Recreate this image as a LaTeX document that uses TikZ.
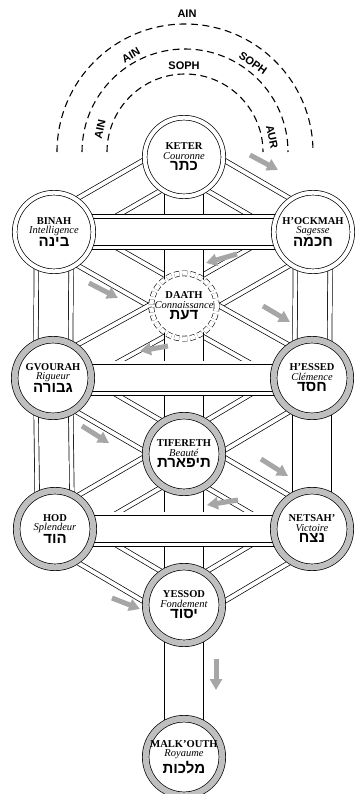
\documentclass[tikz,border=0pt]{standalone}
\usepackage{fontspec}
\setmainfont{Liberation Serif}
\newfontfamily\hebfont[Script=Hebrew]{Liberation Sans}
\newfontfamily\veilfont{Liberation Sans}
\TeXXeTstate=1
\usetikzlibrary{arrows.meta,backgrounds}
\newcommand{\heb}[1]{{\hebfont\bfseries\fontsize{15}{15}\selectfont\beginR #1\endR}}

\begin{document}
\begin{tikzpicture}[x=1pt, y=-1pt,
  sefupper/.style={circle, draw, line width=0.7pt, double=white, double distance=4pt,
                   fill=white, minimum size=78.6pt, inner sep=0pt, align=center,
                   font=\fontsize{10.5}{10.5}\selectfont},
  seflower/.style={sefupper, double=gray!50, double distance=6pt, minimum size=76.6pt},
  sefdaath/.style={sefupper, dash pattern=on 5pt off 3pt, line width=0.6pt,
                   double distance=4.5pt, minimum size=64.5pt},
  channel/.style={preaction={draw, line width=40pt}, preaction={draw=white, line width=38.6pt},
                  preaction={draw, line width=30.7pt}, draw=white, line width=29.3pt},
  bar/.style={preaction={draw, line width=35pt}, preaction={draw=white, line width=33.6pt},
              preaction={draw, line width=27.2pt}, draw=white, line width=25.8pt},
  veil/.style={dash pattern=on 7pt off 4.5pt, line width=1.1pt},
  veiltext/.style={font=\veilfont\bfseries\fontsize{11}{11}\selectfont, inner sep=1pt},
  flow/.style={-{Triangle[length=11pt,width=12pt]}, line width=5pt, gray!70}
]
\useasboundingbox (0,0) rectangle (356,794);

% veils above the crown
\draw[veil] (57,152) arc[start angle=180, end angle=360, radius=128];
\draw[veil] (82,152) arc[start angle=180, end angle=360, radius=103];
\draw[veil] (107,152) arc[start angle=180, end angle=360, radius=78];
\node[veiltext] (ainA) at (187,14) {AIN};
\node[veiltext, rotate=30] (ainB) at (131,55) {AIN};
\node[veiltext, rotate=-35] (sophA) at (253,63) {SOPH};
\node[veiltext] (sophB) at (184,66) {SOPH};
\node[veiltext, rotate=78] (ainC) at (100,129) {AIN};
\node[veiltext, rotate=-78] (aur) at (272,137) {AUR};

% sefirot
\node[sefupper] (keter) at (184,157) {\textbf{KETER}\\[-1pt]\textit{Couronne}\\[1pt]\heb{כתר}};
\node[sefupper] (binah) at (54,232) {\textbf{BINAH}\\[-1pt]\textit{Intelligence}\\[1pt]\heb{בינה}};
\node[sefupper] (hockmah) at (313,232) {\textbf{H'OCKMAH}\\[-1pt]\textit{Sagesse}\\[1pt]\heb{חכמה}};
\node[sefdaath] (daath) at (184,306) {\textbf{DAATH}\\[-1pt]\textit{Connaissance}\\[1pt]\heb{דעת}};
\node[seflower] (gvourah) at (53,378) {\textbf{GVOURAH}\\[-1pt]\textit{Rigueur}\\[1pt]\heb{גבורה}};
\node[seflower] (hessed) at (312,378) {\textbf{H'ESSED}\\[-1pt]\textit{Clémence}\\[1pt]\heb{חסד}};
\node[seflower] (tifereth) at (184,454) {\textbf{TIFERETH}\\[-1pt]\textit{Beauté}\\[1pt]\heb{תיפארת}};
\node[seflower] (hod) at (55,529) {\textbf{HOD}\\[-1pt]\textit{Splendeur}\\[1pt]\heb{הוד}};
\node[seflower] (netsah) at (312,529) {\textbf{NETSAH'}\\[-1pt]\textit{Victoire}\\[1pt]\heb{נצח}};
\node[seflower] (yessod) at (184,605) {\textbf{YESSOD}\\[-1pt]\textit{Fondement}\\[1pt]\heb{יסוד}};
\node[seflower] (malkouth) at (184,757) {\textbf{MALK'OUTH}\\[-1pt]\textit{Royaume}\\[1pt]\heb{מלכות}};

\begin{scope}[on background layer]
% diagonal paths
\draw[channel] (keter.center) -- (binah.center);
\draw[channel] (keter.center) -- (hockmah.center);
\draw[channel] (binah.center) -- (daath.center);
\draw[channel] (hockmah.center) -- (daath.center);
\draw[channel] (daath.center) -- (gvourah.center);
\draw[channel] (daath.center) -- (hessed.center);
\draw[channel] (gvourah.center) -- (tifereth.center);
\draw[channel] (hessed.center) -- (tifereth.center);
\draw[channel] (tifereth.center) -- (hod.center);
\draw[channel] (tifereth.center) -- (netsah.center);
\draw[channel] (hod.center) -- (yessod.center);
\draw[channel] (netsah.center) -- (yessod.center);
% pillars
\draw[channel] (binah.center) -- (gvourah.center);
\draw[channel] (gvourah.center) -- (hod.center);
\draw[channel] (hockmah.center) -- (hessed.center);
\draw[channel] (hessed.center) -- (netsah.center);
\draw[channel] (keter.center) -- (daath.center);
\draw[channel] (daath.center) -- (tifereth.center);
\draw[channel] (tifereth.center) -- (yessod.center);
\draw[channel] (yessod.center) -- (malkouth.center);
% crossbars
\draw[bar] (binah.center) -- (hockmah.center);
\draw[bar] (gvourah.center) -- (hessed.center);
\draw[bar] (hod.center) -- (netsah.center);
\end{scope}

% flow of light
\draw[flow] (250,155) -- (278,170);
\draw[flow] (237,254) -- (206,263);
\draw[flow] (89,283) -- (118,298);
\draw[flow] (263,306) -- (290,322);
\draw[flow] (168,346) -- (140,351);
\draw[flow] (82,426) -- (109,443);
\draw[flow] (261,459) -- (288,476);
\draw[flow] (238,500) -- (207,505);
\draw[flow] (112,598) -- (140,609);
\draw[flow] (216,659) -- (216,690);
\end{tikzpicture}
\end{document}
